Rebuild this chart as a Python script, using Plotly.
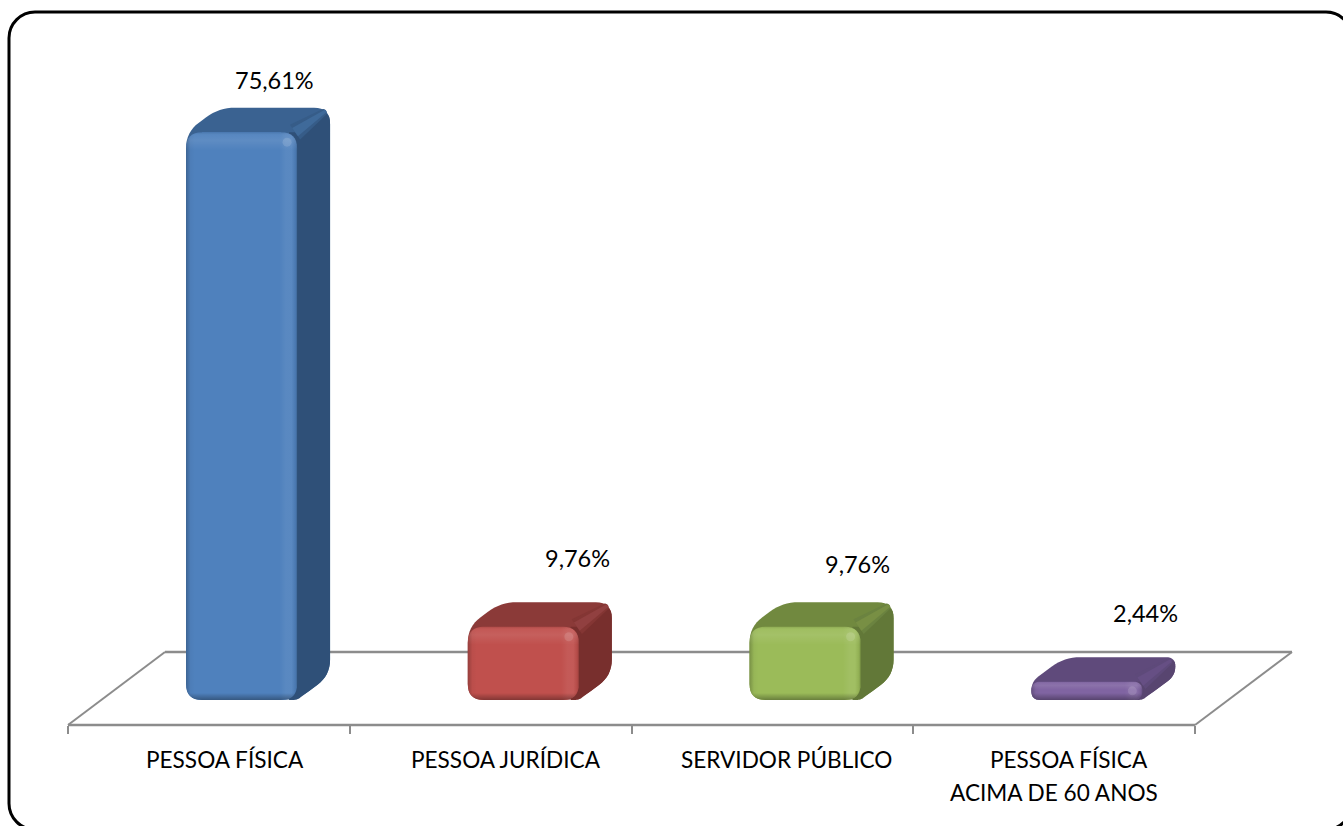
import plotly.graph_objects as go

# ---- data ----
categories = [["PESSOA FÍSICA"], ["PESSOA JURÍDICA"], ["SERVIDOR PÚBLICO"], ["PESSOA FÍSICA", "ACIMA DE 60 ANOS"]]
values = [75.61, 9.76, 9.76, 2.44]
value_labels = ["75,61%", "9,76%", "9,76%", "2,44%"]
front_colors = ["#4F81BD", "#C0504D", "#9BBB59", "#8064A2"]
top_colors = ["#3A6291", "#8B3A38", "#71893F", "#5F4A7B"]
side_colors = ["#2F5078", "#782F2D", "#627838", "#584570"]
band_colors = ["#3F6A9A", "#914040", "#788F44", "#664F84"]
band_soft = ["#365C88", "#843634", "#6B8340", "#5E4A7A"]

# ---- layout geometry (pixels) ----
W, H = 1343, 826
X0_PX, CAT_PX = 68.0, 281.75     # left end of the axis, width of a category
Y0_PX, VAL_PX = 700.0, 7.51      # value 0 on the front of bars, pixels per percent
BAR_PX, DX, DY, R = 111.0, 33.0, 24.5, 16.0
BAR_OFFSET = 0.616               # bar centre inside its category
FLOOR_FRONT, FLOOR_BACK = 725.0, 652.0
TEXT_FONT = "Lato, Carlito, sans-serif"

label_shift = [(33, 52), (54, 69), (52, 63), (59, 69)]
cat_line_shift = [[16], [15], [14], [15, 0]]
cat_line_y = [[759], [759], [759], [759, 792]]


def xd(px_dist):
    return px_dist / CAT_PX


def yd(px_dist):
    return px_dist / VAL_PX


x_range = [-X0_PX / CAT_PX, (W - X0_PX) / CAT_PX]
y_range = [(Y0_PX - H) / VAL_PX, Y0_PX / VAL_PX]
floor_front_v = (Y0_PX - FLOOR_FRONT) / VAL_PX
floor_back_v = (Y0_PX - FLOOR_BACK) / VAL_PX
floor_dx = 97.0 / CAT_PX


def rounded(points, radius, n=8):
    """Round polygon corners. points are (x, y) in data units, radius in px."""
    out_x, out_y = [], []
    m = len(points)
    for i in range(m):
        px, py = points[i - 1]
        cx, cy = points[i]
        nx, ny = points[(i + 1) % m]
        ax, ay = (px - cx) * CAT_PX, (py - cy) * VAL_PX
        bx, by = (nx - cx) * CAT_PX, (ny - cy) * VAL_PX
        la = (ax * ax + ay * ay) ** 0.5
        lb = (bx * bx + by * by) ** 0.5
        r = radius[i] if isinstance(radius, (list, tuple)) else radius
        r = min(r, la / 2, lb / 2)
        if r <= 0:
            out_x.append(cx)
            out_y.append(cy)
            continue
        for k in range(n + 1):
            t = k / n
            u = (1 - t) ** 2 * (r / la)
            v = t ** 2 * (r / lb)
            out_x.append(cx + (ax * u + bx * v) / CAT_PX)
            out_y.append(cy + (ay * u + by * v) / VAL_PX)
    return out_x, out_y


def path_of(xs, ys):
    return "M " + " L ".join(f"{a:.5f},{b:.5f}" for a, b in zip(xs, ys)) + " Z"


def ridge(x_a, v_a, x_b, v_b, half_a, half_b):
    """Tapered band between two data points, half widths in px."""
    ex, ey = (x_b - x_a) * CAT_PX, (v_b - v_a) * VAL_PX
    length = (ex * ex + ey * ey) ** 0.5
    nx, ny = -ey / length, ex / length
    pts = [
        (x_a + xd(nx * half_a), v_a + yd(ny * half_a)),
        (x_b + xd(nx * half_b), v_b + yd(ny * half_b)),
        (x_b - xd(nx * half_b), v_b - yd(ny * half_b)),
        (x_a - xd(nx * half_a), v_a - yd(ny * half_a)),
    ]
    return rounded(pts, [0, half_b, half_b, 0])


def frame_path(left, right, top, bottom, rad):
    k = 0.45 * rad  # distance of the control points from the corner
    def fx(p):
        return f"{p / W:.6f}"
    def fy(p):
        return f"{1 - p / H:.6f}"
    return (
        f"M {fx(left + rad)},{fy(top)} L {fx(right - rad)},{fy(top)} "
        f"C {fx(right - k)},{fy(top)} {fx(right)},{fy(top + k)} {fx(right)},{fy(top + rad)} "
        f"L {fx(right)},{fy(bottom - rad)} "
        f"C {fx(right)},{fy(bottom - k)} {fx(right - k)},{fy(bottom)} {fx(right - rad)},{fy(bottom)} "
        f"L {fx(left + rad)},{fy(bottom)} "
        f"C {fx(left + k)},{fy(bottom)} {fx(left)},{fy(bottom - k)} {fx(left)},{fy(bottom - rad)} "
        f"L {fx(left)},{fy(top + rad)} "
        f"C {fx(left)},{fy(top + k)} {fx(left + k)},{fy(top)} {fx(left + rad)},{fy(top)} Z"
    )


shapes = []
line_gray = "#8C8C8C"
# floor
for x_a, v_a, x_b, v_b, w in [
    (0, floor_front_v, 4, floor_front_v, 2.5),
    (floor_dx, floor_back_v, 4 + floor_dx, floor_back_v, 2.5),
    (0, floor_front_v, floor_dx, floor_back_v, 2),
    (4, floor_front_v, 4 + floor_dx, floor_back_v, 2),
]:
    shapes.append(dict(type="line", xref="x", yref="y", x0=x_a, y0=v_a, x1=x_b, y1=v_b,
                       line=dict(color=line_gray, width=w), layer="below"))

# frame
shapes.append(dict(type="path", xref="paper", yref="paper", layer="above",
                   path=frame_path(9, 1352, 12, 829.5, 26),
                   line=dict(color="black", width=3)))

fig = go.Figure()
overlays = []
annotations = []

for i, v in enumerate(values):
    c = i + BAR_OFFSET
    L, Rt = c - xd(BAR_PX / 2), c + xd(BAR_PX / 2)
    ddx, ddy = xd(DX), yd(DY)
    # whole silhouette in the top colour, then side face and ridge
    xs, ys = rounded([(L, 0), (L, v), (L + ddx, v + ddy), (Rt + ddx, v + ddy),
                      (Rt + ddx, ddy), (Rt, 0)], R)
    shapes.append(dict(type="path", xref="x", yref="y", path=path_of(xs, ys), layer="below",
                       fillcolor=top_colors[i], line=dict(width=0)))
    xs, ys = rounded([(Rt - xd(8), 0), (Rt - xd(8), v), (Rt, v), (Rt + ddx, v + ddy),
                      (Rt + ddx, ddy), (Rt, 0)], [0, 0, 0, R, R, R])
    shapes.append(dict(type="path", xref="x", yref="y", path=path_of(xs, ys), layer="below",
                       fillcolor=side_colors[i], line=dict(width=0)))
    x0_band, y0_band = Rt - xd(2), v
    x1_band, y1_band = Rt + ddx - xd(4), v + ddy - yd(3)
    bx, by = ridge(x0_band, y0_band, x1_band, y1_band, 9, 3)
    shapes.append(dict(type="path", xref="x", yref="y", path=path_of(bx, by), layer="below",
                       fillcolor=band_soft[i], line=dict(width=0)))
    bx, by = ridge(x0_band, y0_band, x1_band, y1_band, 5, 1.5)
    shapes.append(dict(type="path", xref="x", yref="y", path=path_of(bx, by), layer="below",
                       fillcolor=band_colors[i], line=dict(width=0)))
    # front plate
    xs, ys = rounded([(L, 0), (L, v), (Rt, v), (Rt, 0)], R)
    shapes.append(dict(type="path", xref="x", yref="y", path=path_of(xs, ys), layer="below",
                       fillcolor=front_colors[i], line=dict(width=0)))
    # bevel overlays
    overlays.append(go.Scatter(
        x=xs, y=ys, mode="lines", line=dict(width=0), fill="toself", hoverinfo="skip",
        showlegend=False,
        fillgradient=dict(type="horizontal", start=L, stop=Rt, colorscale=[
            [0, "rgba(0,0,0,0.22)"], [0.04, "rgba(0,0,0,0.03)"], [0.08, "rgba(0,0,0,0)"],
            [0.84, "rgba(255,255,255,0)"], [0.90, "rgba(255,255,255,0.06)"],
            [0.95, "rgba(255,255,255,0.06)"], [0.985, "rgba(0,0,0,0.06)"],
            [1, "rgba(0,0,0,0.20)"]])))
    h_px = v * VAL_PX
    b_s = min(0.45, 7.0 / h_px)
    t_s = min(0.45, 18.0 / h_px)
    overlays.append(go.Scatter(
        x=xs, y=ys, mode="lines", line=dict(width=0), fill="toself", hoverinfo="skip",
        showlegend=False,
        fillgradient=dict(type="vertical", start=0, stop=v, colorscale=[
            [0, "rgba(0,0,0,0.32)"], [b_s, "rgba(0,0,0,0)"],
            [1 - t_s, "rgba(255,255,255,0)"], [1 - t_s * 0.45, "rgba(255,255,255,0.09)"],
            [1 - t_s * 0.15, "rgba(255,255,255,0.05)"], [1, "rgba(0,0,0,0.10)"]])))
    # value label and category label
    dx_l, dy_l = label_shift[i]
    annotations.append(dict(x=c, y=v, xref="x", yref="y", text=value_labels[i],
                            showarrow=False, xshift=dx_l, yshift=dy_l,
                            font=dict(family=TEXT_FONT, size=23.5, color="black")))
    for text, shift, y_px in zip(categories[i], cat_line_shift[i], cat_line_y[i]):
        annotations.append(dict(x=i + 0.5, y=(Y0_PX - y_px) / VAL_PX, xref="x", yref="y",
                                text=text, showarrow=False, xshift=shift,
                                font=dict(family=TEXT_FONT, size=22.6, color="black")))

fig.add_trace(go.Bar(
    x=[i + BAR_OFFSET for i in range(len(values))], y=values, base=0,
    width=(BAR_PX - 2 * R) / CAT_PX, marker=dict(color=front_colors, line=dict(width=0)),
    showlegend=False, hoverinfo="skip"))
fig.add_traces(overlays)

# highlights at the top-right corner of every front face
fig.add_trace(go.Scatter(
    x=[i + BAR_OFFSET + xd(BAR_PX / 2 - 10) for i in range(len(values))],
    y=[v - yd(min(10, v * VAL_PX / 2)) for v in values], mode="markers",
    hoverinfo="skip", showlegend=False,
    marker=dict(size=9, color="rgba(255,255,255,0.13)", line=dict(width=0))))

fig.update_layout(
    width=W, height=H, margin=dict(l=0, r=0, t=0, b=0), paper_bgcolor="white",
    plot_bgcolor="rgba(0,0,0,0)", showlegend=False, bargap=0,
    shapes=shapes, annotations=annotations,
    xaxis=dict(range=x_range, tickmode="array", tickvals=[0, 1, 2, 3, 4], showticklabels=False,
               ticks="outside", ticklen=8, tickwidth=2, tickcolor=line_gray,
               showgrid=False, zeroline=False, showline=False,
               anchor="free", position=(H - FLOOR_FRONT) / H),
    yaxis=dict(range=y_range, visible=False, fixedrange=True),
)
fig.write_html("out.html", config={"displayModeBar": False},
               post_script="document.body.style.margin='0';document.body.style.overflow='hidden';")
